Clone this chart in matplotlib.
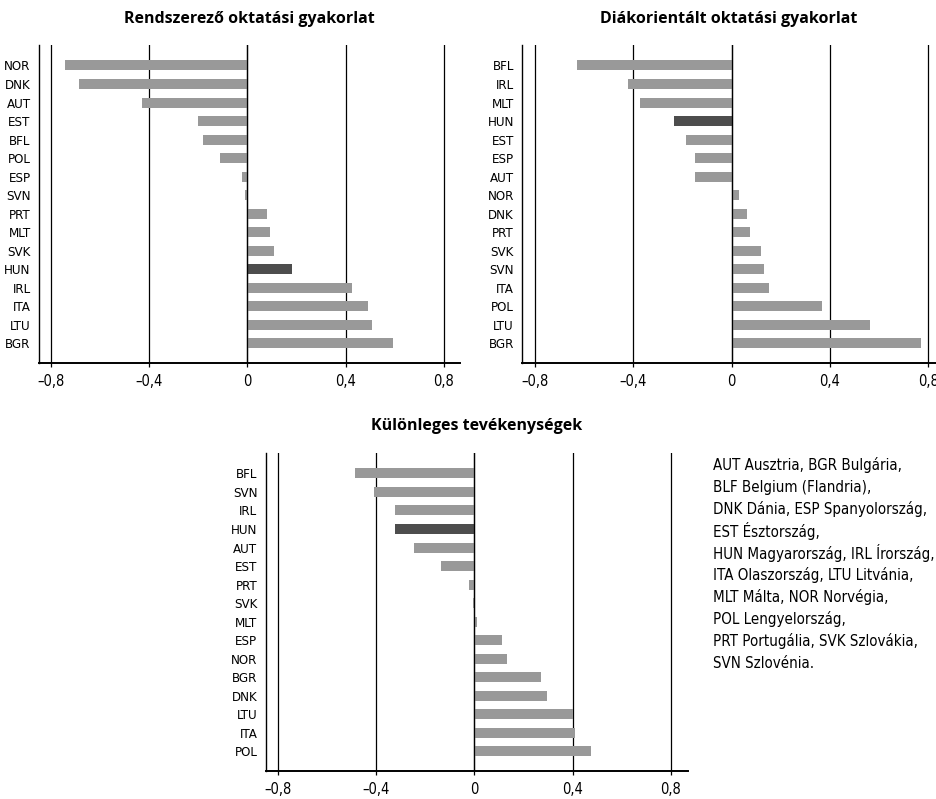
import numpy as np
import matplotlib
matplotlib.use("Agg")
import matplotlib.pyplot as plt

plt.rcParams.update({
    "font.family": ["DejaVu Sans"],
    "font.stretch": "condensed",
    "font.size": 10,
})

# --- data ---------------------------------------------------------------------
title_1 = "Rendszerező oktatási gyakorlat"
countries_1 = ["NOR", "DNK", "AUT", "EST", "BFL", "POL", "ESP", "SVN",
               "PRT", "MLT", "SVK", "HUN", "IRL", "ITA", "LTU", "BGR"]
values_1 = [-0.743, -0.686, -0.430, -0.202, -0.182, -0.113, -0.023, -0.011,
            0.079, 0.091, 0.107, 0.180, 0.424, 0.489, 0.505, 0.591]

title_2 = "Diákorientált oktatási gyakorlat"
countries_2 = ["BFL", "IRL", "MLT", "HUN", "EST", "ESP", "AUT", "NOR",
               "DNK", "PRT", "SVK", "SVN", "ITA", "POL", "LTU", "BGR"]
values_2 = [-0.629, -0.422, -0.373, -0.235, -0.186, -0.149, -0.149, 0.030,
            0.062, 0.074, 0.119, 0.131, 0.152, 0.367, 0.563, 0.770]

title_3 = "Különleges tevékenységek"
countries_3 = ["BFL", "SVN", "IRL", "HUN", "AUT", "EST", "PRT", "SVK",
               "MLT", "ESP", "NOR", "BGR", "DNK", "LTU", "ITA", "POL"]
values_3 = [-0.486, -0.408, -0.324, -0.324, -0.246, -0.136, -0.022, -0.005,
            0.010, 0.113, 0.133, 0.272, 0.296, 0.401, 0.410, 0.475]

xticks = [-0.8, -0.4, 0, 0.4, 0.8]
xtick_labels = ["\u20130,8", "\u20130,4", "0", "0,4", "0,8"]

legend_lines = [
    "AUT Ausztria, BGR Bulgária,",
    "BLF Belgium (Flandria),",
    "DNK Dánia, ESP Spanyolország,",
    "EST Észtország,",
    "HUN Magyarország, IRL Írország,",
    "ITA Olaszország, LTU Litvánia,",
    "MLT Málta, NOR Norvégia,",
    "POL Lengyelország,",
    "PRT Portugália, SVK Szlovákia,",
    "SVN Szlovénia.",
]

GREY = "#999999"
DARK = "#4d4d4d"


def draw_panel(ax, countries, values, title, xlim):
    y = np.arange(len(countries))
    colors = [DARK if c == "HUN" else GREY for c in countries]
    ax.barh(y, values, height=0.54, color=colors, zorder=2)
    ax.set_yticks(y)
    ax.set_yticklabels(countries, fontsize=9.5)
    ax.set_ylim(len(countries) - 1 + 1.05, -1.12)
    ax.set_xlim(*xlim)
    ax.set_xticks(xticks)
    ax.set_xticklabels(xtick_labels, fontsize=10.5)
    ax.grid(axis="x", color="black", linewidth=0.9)
    ax.set_axisbelow(True)
    ax.axvline(0, color="black", linewidth=0.9, zorder=3)
    for s in ["top", "right"]:
        ax.spines[s].set_visible(False)
    ax.spines["left"].set_linewidth(1.0)
    ax.spines["bottom"].set_linewidth(1.4)
    ax.tick_params(axis="y", length=0, pad=6)
    ax.tick_params(axis="x", length=3, width=0.9, pad=5)
    ax.set_title(title, fontsize=11.5, fontweight="bold",
                 family=["Open Sans", "DejaVu Sans"], fontstretch="normal", pad=16)


fig = plt.figure(figsize=(9.37, 7.99), dpi=100)

ax1 = fig.add_axes([0.0416, 0.546, 0.449, 0.398])
draw_panel(ax1, countries_1, values_1, title_1, (-0.849, 0.864))

ax2 = fig.add_axes([0.5574, 0.546, 0.441, 0.398])
draw_panel(ax2, countries_2, values_2, title_2, (-0.852, 0.83))

ax3 = fig.add_axes([0.2836, 0.0354, 0.4504, 0.398])
draw_panel(ax3, countries_3, values_3, title_3, (-0.849, 0.869))

# country key, one line at a time for even spacing
for i, line in enumerate(legend_lines):
    fig.text(0.761, 1 - (465 + 22 * i) / 799, line, fontsize=10.8,
             va="center", ha="left")

fig.savefig("out.png", dpi=100)
